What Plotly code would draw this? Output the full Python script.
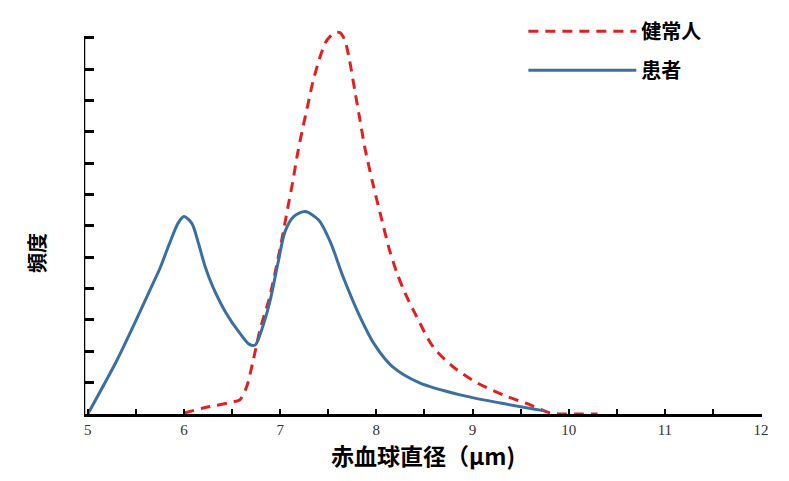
import plotly.graph_objects as go

# 健常人 (healthy) - red dashed
healthy_x = [6.0, 6.2, 6.5, 6.58, 6.65, 6.72, 6.79, 6.89, 7.0, 7.08, 7.13, 7.18, 7.24, 7.29, 7.34, 7.41, 7.47, 7.52,
             7.57, 7.62, 7.67, 7.72, 7.78, 7.83, 7.88, 7.96, 8.04, 8.14, 8.22, 8.3, 8.42, 8.59, 8.8, 9.05, 9.32, 9.6,
             9.81, 9.92, 10.1, 10.3]
healthy_y = [0.03, 0.19, 0.38, 0.45, 0.86, 1.72, 2.68, 3.73, 5.3, 6.6, 7.4, 8.3, 9.2, 9.9, 10.6, 11.35, 11.85, 12.05,
             12.17, 12.17, 11.95, 11.3, 10.25, 9.38, 8.5, 7.4, 6.4, 5.2, 4.45, 3.85, 3.1, 2.14, 1.5, 0.99, 0.61, 0.29,
             0.03, 0.0, 0.0, 0.0]

# 患者 (patients) - blue solid
patient_x = [5.0, 5.3, 5.48, 5.66, 5.75, 5.85, 5.94, 6.0, 6.08, 6.15, 6.22, 6.3, 6.44, 6.58, 6.68, 6.74, 6.8, 6.89,
             6.98, 7.05, 7.14, 7.26, 7.4, 7.52, 7.66, 7.83, 7.98, 8.17, 8.45, 8.87, 9.29, 9.75]
patient_y = [0.0, 1.7, 2.85, 4.05, 4.65, 5.45, 6.1, 6.3, 6.09, 5.45, 4.7, 4.06, 3.21, 2.58, 2.22, 2.2, 2.62, 3.55,
             4.86, 5.82, 6.3, 6.46, 6.19, 5.5, 4.33, 3.1, 2.22, 1.5, 0.99, 0.61, 0.35, 0.1]

x_ticks = [5, 5.5, 6, 6.5, 7, 7.5, 8, 8.5, 9, 9.5, 10, 10.5, 11, 11.5, 12]
x_ticktext = ['5', '', '6', '', '7', '', '8', '', '9', '', '10', '', '11', '', '12']
y_ticks = list(range(0, 13))

cjk = "Noto Sans CJK JP"

fig = go.Figure()
fig.add_trace(go.Scatter(x=healthy_x, y=healthy_y, mode='lines', name='健常人', legendgroup='a',
                         line=dict(color='#e3201f', width=3, dash='10px,7px', shape='spline', smoothing=0.8)))
fig.add_trace(go.Scatter(x=patient_x, y=patient_y, mode='lines', name='患者', legendgroup='b',
                         line=dict(color='#3b6fa1', width=3, shape='spline', smoothing=0.8)))

# y axis line only from 0 to 12
fig.add_shape(type='line', xref='x', yref='y', x0=4.96, x1=4.96, y0=0, y1=12,
              line=dict(color='black', width=2.5))

# axis titles placed by hand
fig.add_annotation(text='頻度', xref='paper', yref='paper', x=-0.069, y=0.40, xanchor='center', yanchor='middle',
                   textangle=-90, showarrow=False, font=dict(family=cjk, size=20, color='black', weight='bold'))
fig.add_annotation(text='赤血球直径（μm)', xref='paper', yref='paper', x=0.5, y=-0.102, xanchor='center',
                   yanchor='middle', showarrow=False, font=dict(family=cjk, size=23, color='black', weight='bold'))

# page body has an 8px offset, so margins are shifted by that
fig.update_layout(
    width=789, height=481,
    margin=dict(l=76, r=35, t=3, b=75),
    plot_bgcolor='white', paper_bgcolor='white',
    legend=dict(x=0.648, y=0.998, xanchor='left', yanchor='top', itemwidth=108,
                tracegroupgap=10, font=dict(family=cjk, size=20, color='black', weight='bold'),
                bgcolor='rgba(0,0,0,0)'),
    xaxis=dict(range=[4.96, 12.01], tickvals=x_ticks, ticktext=x_ticktext, ticks='inside', ticklen=5,
               tickwidth=2, tickcolor='black', showline=True, linecolor='black', linewidth=2.5,
               showgrid=False, zeroline=False, automargin=False,
               tickfont=dict(family='Liberation Serif', size=15, color='#333333')),
    yaxis=dict(range=[0, 12.86], tickvals=y_ticks, ticks='inside', ticklen=10, tickwidth=2.5,
               tickcolor='black', showticklabels=False, showline=False, showgrid=False, zeroline=False,
               automargin=False),
)

fig.write_html("out.html")
